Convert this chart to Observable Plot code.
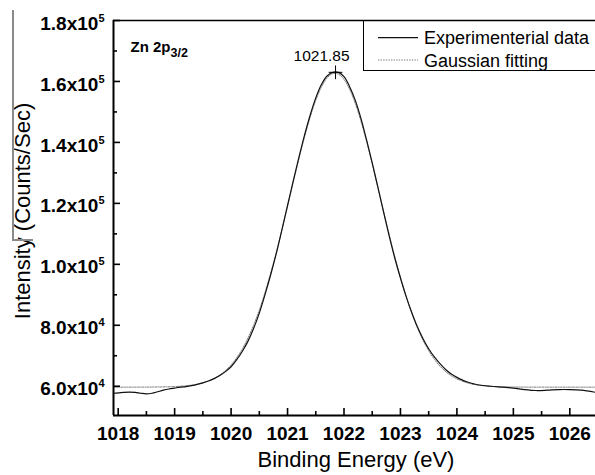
<!DOCTYPE html>
<html><head><meta charset="utf-8">
<script src="https://cdn.jsdelivr.net/npm/d3@7"></script>
<script src="https://cdn.jsdelivr.net/npm/@observablehq/plot@0.6"></script>
<style>
html,body{margin:0;padding:0;background:#fff;}
#wrap{position:relative;width:595px;height:475px;overflow:hidden;}
</style></head><body><div id="wrap"></div>
<script>
// ---- data ----
const energyExp = [1017.92,1018.0,1018.1,1018.2,1018.3,1018.4,1018.5,1018.6,1018.7,1018.8,1018.9,1019.0,1019.1,1019.2,1019.3,1019.4,1019.5,1019.6,1019.7,1019.8,1019.9,1020.0,1020.1,1020.2,1020.3,1020.4,1020.5,1020.6,1020.7,1020.8,1020.9,1021.0,1021.1,1021.2,1021.3,1021.4,1021.5,1021.6,1021.7,1021.8,1021.9,1022.0,1022.1,1022.2,1022.3,1022.4,1022.5,1022.6,1022.7,1022.8,1022.9,1023.0,1023.1,1023.2,1023.3,1023.4,1023.5,1023.6,1023.7,1023.8,1023.9,1024.0,1024.1,1024.2,1024.3,1024.4,1024.6,1024.8,1025.0,1025.2,1025.4,1025.6,1025.8,1026.0,1026.2,1026.455];
const intensityExp = [57700,57800,58000,58100,58000,57700,57500,57700,58200,58700,59100,59400,59700,59900,60200,60600,61100,61700,62500,63500,64800,66400,68700,71500,74800,79000,84000,90000,96500,103500,111300,119300,127300,135000,142300,148900,154600,159000,161800,163000,163000,161600,158300,153800,147900,140800,133300,125300,117200,109300,102000,95500,89500,84200,79500,75600,72300,69600,67400,65500,64000,62900,62000,61300,60800,60400,60000,59700,59400,58900,58600,58700,58900,58900,58700,58000];
const energyFit = [1017.92,1018.5,1019.0,1019.2,1019.4,1019.6,1019.7,1019.8,1019.9,1020.0,1020.1,1020.2,1020.3,1020.4,1020.5,1020.6,1020.7,1020.8,1020.9,1021.0,1021.1,1021.2,1021.3,1021.4,1021.5,1021.6,1021.7,1021.8,1021.9,1022.0,1022.1,1022.2,1022.3,1022.4,1022.5,1022.6,1022.7,1022.8,1022.9,1023.0,1023.1,1023.2,1023.3,1023.4,1023.5,1023.6,1023.7,1023.8,1023.9,1024.0,1024.2,1024.4,1024.6,1024.8,1025.0,1026.455];
const intensityFit = [59700,59720,59890,60150,60680,61740,62580,63690,65150,67010,69370,72300,75850,80080,85030,90690,97020,103950,111340,119060,126850,134490,141710,148240,153810,158170,161130,162570,162410,160660,157410,152780,146990,140320,132990,125290,117490,109840,102520,95700,89510,83980,79180,75090,71670,68860,66600,64820,63440,62390,61030,60320,59970,59810,59740,59700];
const seriesNames = ["Experimenterial data", "Gaussian fitting"];
const xTicks = [1018,1019,1020,1021,1022,1023,1024,1025,1026];
const xMinorTicks = [1018.5,1019.5,1020.5,1021.5,1022.5,1023.5,1024.5,1025.5];
const yTicks = [60000,80000,100000,120000,140000,160000,180000];
const yTickMantissa = ["6.0","8.0","1.0","1.2","1.4","1.6","1.8"];
const yTickExponent = ["4","4","5","5","5","5","5"];
const yMinorTicks = [70000,90000,110000,130000,150000,170000];
const peakEnergy = [1021.85];
const peakIntensity = [163000];
const peakLabel = ["1021.85"];
const xDomain = [1017.917, 1026.455];
const yDomain = [50400, 180000];
const xTitle = "Binding Energy (eV)";
const yTitle = "Intensity (Counts/Sec)";
const panelLabel = "Zn 2p";
const panelSub = "3/2";

const expData = energyExp.map((e, i) => ({e, v: intensityExp[i]}));
const fitData = energyFit.map((e, i) => ({e, v: intensityFit[i]}));
const peak = peakEnergy.map((e, i) => ({e, v: peakIntensity[i], t: peakLabel[i]}));

const FONT = "'Liberation Sans', Arial, Helvetica, sans-serif";

const svg = Plot.plot({
  width: 595, height: 475,
  marginLeft: 113, marginRight: 0, marginTop: 20, marginBottom: 60,
  style: {fontFamily: FONT, fontSize: "18px", color: "black", background: "white", overflow: "visible"},
  x: {domain: xDomain},
  y: {domain: yDomain},
  marks: [
    Plot.line(fitData, {x: "e", y: "v", stroke: "#7a7a7a", strokeWidth: 1, strokeDasharray: "1.4,1.2", curve: "catmull-rom"}),
    Plot.line(expData, {x: "e", y: "v", stroke: "#111", strokeWidth: 1.2, curve: "catmull-rom"}),
    Plot.ruleY([yDomain[1]], {stroke: "black", strokeWidth: 1.5}),
    Plot.ruleX([xDomain[0]], {stroke: "black", strokeWidth: 2}),
    Plot.ruleY([yDomain[0]], {stroke: "black", strokeWidth: 2}),
    Plot.axisX({ticks: xTicks, tickSize: 7, dy: -7, fill: "none", label: null, strokeWidth: 1.6}),
    Plot.axisX({ticks: xMinorTicks, tickSize: 4, dy: -4, fill: "none", label: null, strokeWidth: 1.6}),
    Plot.axisX({ticks: xTicks, tickSize: 0, tickPadding: 11, tickFormat: d => String(d), label: null, fontWeight: "bold", fontSize: 19}),
    Plot.axisY({ticks: yTicks, tickSize: 7, dx: 7, fill: "none", label: null, strokeWidth: 1.6}),
    Plot.axisY({ticks: yMinorTicks, tickSize: 4, dx: 4, fill: "none", label: null, strokeWidth: 1.6}),
    Plot.axisY({ticks: yTicks, tickSize: 0, tickPadding: 9, dy: 3, tickFormat: d => yTickMantissa[yTicks.indexOf(d)] + "x10", label: null, fontWeight: "bold", fontSize: 19}),
    Plot.dot(peak, {x: "e", y: "v", symbol: "plus", r: 4.5, stroke: "black", strokeWidth: 1}),
    Plot.text(peak, {x: "e", y: "v", text: "t", dx: -14, dy: -16, fontSize: 15.5}),
    Plot.text([xTitle], {frameAnchor: "bottom", textAnchor: "middle", lineAnchor: "middle", dx: 1.5, dy: 44, fontSize: 22}),
    Plot.text([yTitle], {frameAnchor: "left", textAnchor: "middle", lineAnchor: "middle", rotate: -90, dx: -91, dy: -7, fontSize: 22}),
    Plot.text([panelLabel], {frameAnchor: "top-left", textAnchor: "start", lineAnchor: "middle", dx: 17, dy: 27, fontSize: 15, fontWeight: "bold"})
  ]
});
document.getElementById("wrap").appendChild(svg);

// superscripts / subscripts
d3.select(svg).selectAll("text").each(function() {
  const t = this.textContent;
  if (t.endsWith("x10")) {
    const idx = yTickMantissa.indexOf(t.replace("x10", ""));
    if (idx >= 0) {
      d3.select(this).append("tspan").attr("dy", "-8").attr("font-size", 11).text(yTickExponent[idx]);
    }
  } else if (t === panelLabel) {
    d3.select(this).append("tspan").attr("dy", "5").attr("font-size", 12.5).text(panelSub);
  }
});

// legend (pixel layout) and border artifact
const g = d3.select(svg).append("g").attr("font-family", FONT).attr("text-anchor", "start");
g.append("rect").attr("x", 363.5).attr("y", 20.5).attr("width", 260).attr("height", 50)
  .attr("fill", "none").attr("stroke", "black").attr("stroke-width", 1);
g.append("line").attr("x1", 378).attr("x2", 418).attr("y1", 37.7).attr("y2", 37.7).attr("stroke", "#111").attr("stroke-width", 1.3);
g.append("line").attr("x1", 378).attr("x2", 418).attr("y1", 60).attr("y2", 60).attr("stroke", "#7a7a7a").attr("stroke-width", 1).attr("stroke-dasharray", "1.4,1.2");
g.append("text").attr("x", 424).attr("y", 44).attr("font-size", 18).attr("fill", "black").text(seriesNames[0]);
g.append("text").attr("x", 424).attr("y", 66.5).attr("font-size", 18).attr("fill", "black").text(seriesNames[1]);
g.append("path").attr("d", "M13,10V240H33").attr("fill", "none").attr("stroke", "#8a8a8a").attr("stroke-width", 2);
</script>
</body></html>
